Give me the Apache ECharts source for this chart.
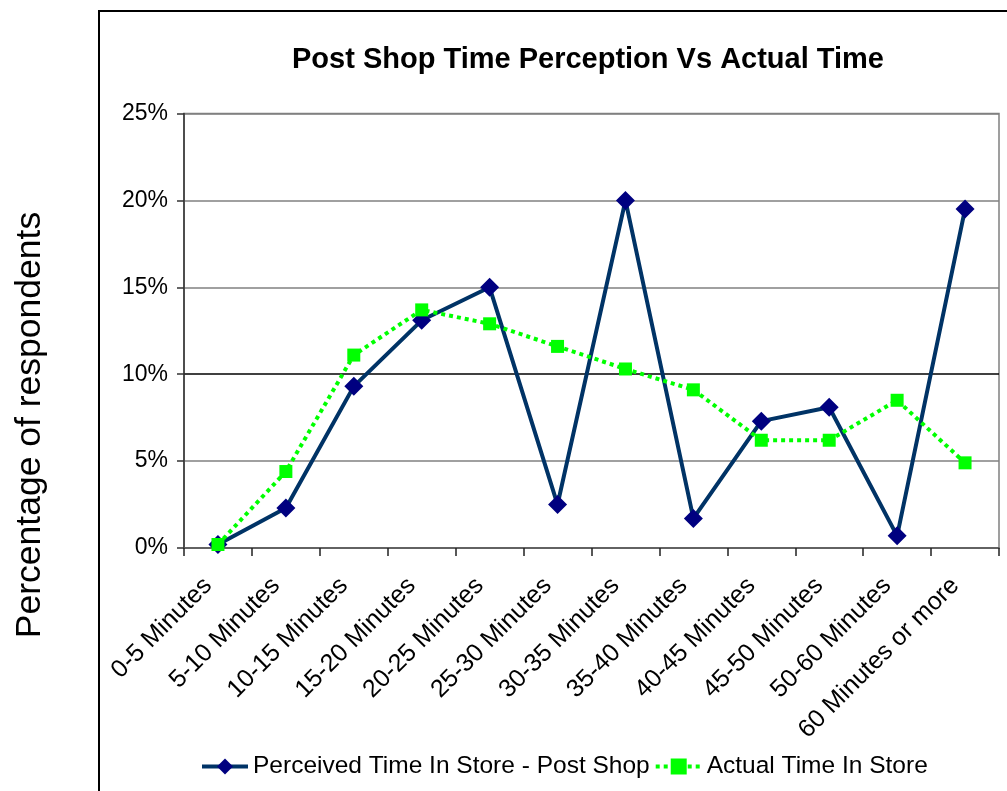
<!DOCTYPE html>
<html>
<head>
<meta charset="utf-8">
<script src="https://cdn.jsdelivr.net/npm/echarts@6/dist/echarts.min.js"></script>
<style>
html,body{margin:0;padding:0;background:#fff;}
#chart{width:1007px;height:791px;}
</style>
</head>
<body>
<div id="chart"></div>
<script>
const categories = ['0-5 Minutes','5-10 Minutes','10-15 Minutes','15-20 Minutes','20-25 Minutes','25-30 Minutes','30-35 Minutes','35-40 Minutes','40-45 Minutes','45-50 Minutes','50-60 Minutes','60 Minutes or more'];
const perceived = [0.2, 2.3, 9.3, 13.1, 15.0, 2.5, 20.0, 1.7, 7.3, 8.1, 0.7, 19.5];
const actual = [0.2, 4.4, 11.1, 13.7, 12.9, 11.6, 10.3, 9.1, 6.2, 6.2, 8.5, 4.9];
const yTickValues = [0, 5, 10, 15, 20, 25];
const seriesNames = ['Perceived Time In Store - Post Shop', 'Actual Time In Store'];
const titleText = 'Post Shop Time Perception Vs Actual Time';
const yAxisName = 'Percentage of respondents';

const FONT = "'Liberation Sans', Arial, sans-serif";
const chart = echarts.init(document.getElementById('chart'), null, {renderer: 'canvas'});
chart.setOption({
  animation: false,
  backgroundColor: '#fff',
  textStyle: {fontFamily: FONT},
  title: {
    text: titleText,
    left: 583, top: 40, textAlign: 'center',
    textStyle: {fontFamily: FONT, fontWeight: 'bold', fontSize: 29, color: '#000'}
  },
  graphic: [
    {type: 'rect', shape: {x: 99, y: 11, width: 1000, height: 900}, style: {fill: 'none', stroke: '#000', lineWidth: 2}, z: 0},
    {type: 'text', x: 30, y: 425, rotation: Math.PI / 2,
     style: {text: yAxisName, fontFamily: FONT, fontSize: 35.5, fill: '#000', textAlign: 'center', textVerticalAlign: 'middle'}}
  ],
  legend: {
    left: 195, top: 749,
    itemWidth: 46, itemHeight: 20, itemGap: 4,
    lineStyle: {width: 4},
    textStyle: {fontFamily: FONT, fontSize: 24.5, color: '#000'},
    data: seriesNames
  },
  grid: {
    left: 184, right: 8, top: 113.5, bottom: 243,
    show: true, borderColor: '#808080', borderWidth: 1.5, containLabel: false
  },
  xAxis: {
    type: 'category', data: categories, boundaryGap: true,
    axisLine: {lineStyle: {color: '#555', width: 1.5}},
    axisTick: {show: true, interval: 0, length: 8, lineStyle: {color: '#222', width: 1.5}},
    axisLabel: {interval: 0, rotate: 45, margin: 24, padding: [0, 14, 0, 0], fontFamily: FONT, fontSize: 25, color: '#000'},
    splitLine: {show: false}
  },
  yAxis: {
    type: 'value', min: 0, max: 25, interval: 5,
    axisLine: {show: true, lineStyle: {color: '#333', width: 1.5}},
    axisTick: {show: true, length: 7, lineStyle: {color: '#333', width: 1.5}},
    axisLabel: {formatter: v => yTickValues.includes(v) ? v + '%' : '', margin: 16, fontFamily: FONT, fontSize: 23, color: '#000'},
    splitLine: {show: true, lineStyle: {color: ['#808080', '#808080', '#000000', '#808080', '#808080', '#808080'], width: 1.5}}
  },
  series: [
    {
      name: seriesNames[0], type: 'line', data: perceived,
      symbol: 'diamond', symbolSize: 19,
      lineStyle: {color: '#003366', width: 4},
      itemStyle: {color: '#000080'}
    },
    {
      name: seriesNames[1], type: 'line', data: actual,
      symbol: 'rect', symbolSize: 13,
      lineStyle: {color: '#00FF00', width: 4, type: [4, 4]},
      itemStyle: {color: '#00FF00'}
    }
  ]
});
</script>
</body>
</html>
